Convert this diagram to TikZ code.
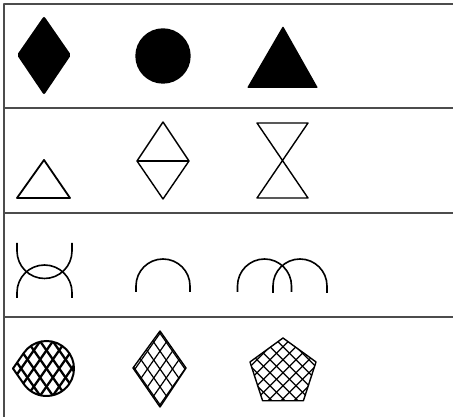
\documentclass[tikz,border=0pt]{standalone}
\usetikzlibrary{calc}
\begin{document}
\begin{tikzpicture}[x=1pt, y=1pt, line join=round,
    rule/.style={black!70, line width=1.4pt},
    outline/.style={draw=black, line width=1.4pt},
    arcline/.style={draw=black, line width=1.6pt},
    hatch/.style={draw=black, line width=1.2pt}]
  \useasboundingbox (0,0) rectangle (453,417);
  % frame and row rules
  \draw[rule] (453,413) -- (4,413) -- (4,0);
  \foreach \y in {309,204,100} \draw[rule] (4,\y) -- (453,\y);

  % row 1: solid shapes
  \fill[rounded corners=2pt] (44,401) -- (71,362) -- (44,322) -- (17,362) -- cycle;
  \fill (163,361) circle (27.7);
  \fill[rounded corners=1pt] (283,391) -- (318,329) -- (247,329) -- cycle;

  % row 2: outlines
  \draw[outline, line width=1.8pt] (44,257) -- (70,219) -- (17,219) -- cycle;
  \coordinate (dtop) at (163,295);
  \coordinate (dright) at (189,256);
  \coordinate (dbot) at (163,218);
  \coordinate (dleft) at (137,256);
  \draw[outline] (dtop) -- (dright) -- (dbot) -- (dleft) -- cycle;
  \draw[outline] (dleft) -- (dright);
  \draw[outline] (257,294) -- (308,294) -- (257,219) -- (308,219) -- cycle;

  % row 3: arcs
  \draw[arcline] (17,174) -- (17,166) arc[start angle=180, end angle=360, radius=27.5] -- ++(0,8);
  \draw[arcline] (17,119) -- (17,124.5) arc[start angle=180, end angle=0, radius=27.5] -- ++(0,-5.5);
  \draw[arcline] (136,125) -- (136,131) arc[start angle=180, end angle=0, radius=27] -- ++(0,-6);
  \draw[arcline] (237.5,125) -- (237.5,131) arc[start angle=180, end angle=0, radius=27] -- ++(0,-6);
  \draw[arcline] (273,124) -- (273,131) arc[start angle=180, end angle=0, radius=27] -- ++(0,-7);

  % row 4: hatched shapes
  \coordinate (drop) at (46.5,48.5);
  \begin{scope}
    \clip (13,48.5) -- ($(drop)+(145.2:27.5)$) arc[start angle=145.2, end angle=-145.2, radius=27.5] -- cycle;
    \foreach \k in {-7,...,7} {
      \draw[hatch, line width=2.3pt] ($(drop)+(\k*12.7,0)+(55:-90)$) -- ($(drop)+(\k*12.7,0)+(55:90)$);
      \draw[hatch, line width=2.3pt] ($(drop)+(\k*12.7,0)+(125:-90)$) -- ($(drop)+(\k*12.7,0)+(125:90)$);
    }
  \end{scope}
  \draw[outline, line width=2pt] (13,48.5) -- ($(drop)+(145.2:27.5)$) arc[start angle=145.2, end angle=-145.2, radius=27.5] -- cycle;

  \coordinate (rhomb) at (160,48);
  \begin{scope}
    \clip (160,86) -- (186,49) -- (160,10) -- (133,49) -- cycle;
    \foreach \k in {-7,...,7} {
      \draw[hatch] ($(rhomb)+(\k*12.5,0)+(55:-90)$) -- ($(rhomb)+(\k*12.5,0)+(55:90)$);
      \draw[hatch] ($(rhomb)+(\k*12.5,0)+(125:-90)$) -- ($(rhomb)+(\k*12.5,0)+(125:90)$);
    }
  \end{scope}
  \draw[outline] (160,86) -- (186,49) -- (160,10) -- (133,49) -- cycle;

  \coordinate (pent) at (283,44.3);
  \begin{scope}
    \clip ($(pent)+(90:34.7)$) -- ($(pent)+(162:34.7)$) -- ($(pent)+(234:34.7)$)
      -- ($(pent)+(306:34.7)$) -- ($(pent)+(18:34.7)$) -- cycle;
    \foreach \k in {-7,...,7} {
      \draw[hatch] ($(pent)+(\k*13,0)+(45:-90)$) -- ($(pent)+(\k*13,0)+(45:90)$);
      \draw[hatch] ($(pent)+(\k*13,0)+(135:-90)$) -- ($(pent)+(\k*13,0)+(135:90)$);
    }
  \end{scope}
  \draw[outline] ($(pent)+(90:34.7)$) -- ($(pent)+(162:34.7)$) -- ($(pent)+(234:34.7)$)
      -- ($(pent)+(306:34.7)$) -- ($(pent)+(18:34.7)$) -- cycle;
\end{tikzpicture}
\end{document}
